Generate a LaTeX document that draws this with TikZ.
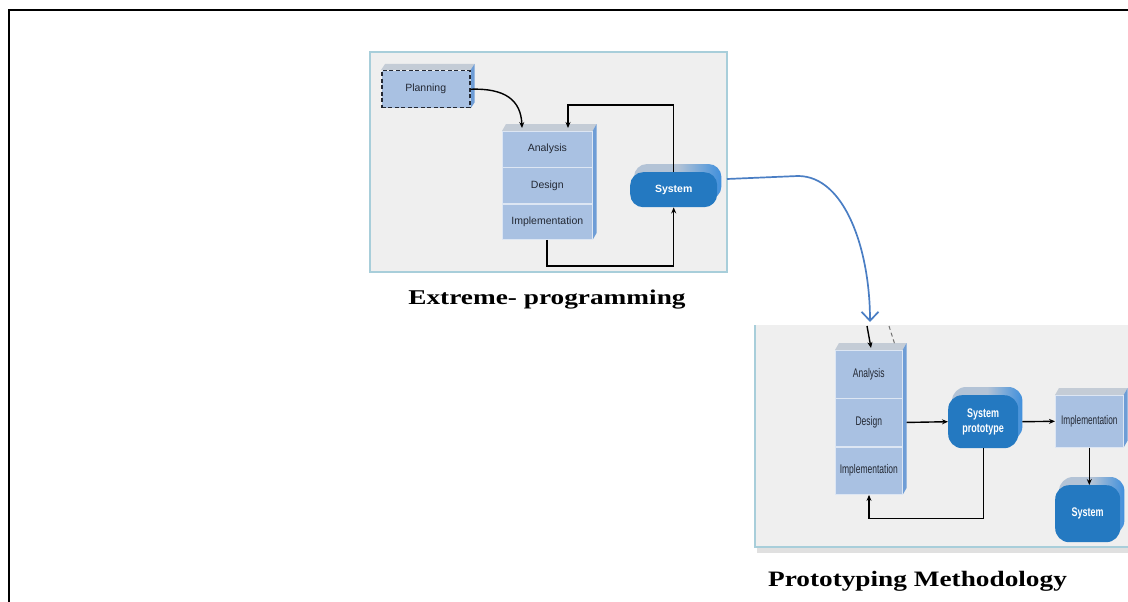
\documentclass[tikz,border=0pt]{standalone}
\usepackage{fontspec}
\setmainfont{Liberation Serif}
\newfontfamily\arialf{Liberation Sans}
\usetikzlibrary{arrows.meta,calc}
\pgfdeclarelayer{background}
\pgfdeclarelayer{mid}
\pgfsetlayers{background,mid,main}
\definecolor{boxfill}{HTML}{A9C1E2}
\definecolor{boxtop}{HTML}{C4CCD6}
\definecolor{boxside}{HTML}{6E9DD6}
\definecolor{sysfill}{HTML}{2479C1}
\definecolor{systop}{HTML}{B3C3D6}
\definecolor{sysside}{HTML}{3F8FDC}
\definecolor{panelfill}{HTML}{EFEFEF}
\definecolor{panelline}{HTML}{A8CEDA}
\definecolor{curveblue}{HTML}{4A7EC4}
\definecolor{txt}{HTML}{232833}
\tikzset{
  panelbox/.style={draw=panelline, fill=panelfill, line width=1.2pt},
  blk/.style={rectangle, fill=boxfill, draw=white!60!boxfill, line width=0.6pt, text=txt,
     font=\arialf\fontsize{10.5}{12}\selectfont, inner sep=0pt, anchor=north west},
  blkb/.style={blk, font=\arialf\fontsize{12.5}{14}\selectfont},
  pill/.style={rectangle, rounded corners=13pt, fill=sysfill, text=white,
     font=\arialf\bfseries\fontsize{10.5}{12}\selectfont, inner sep=0pt, anchor=north west},
  pillb/.style={pill, font=\arialf\bfseries\fontsize{12.5}{14}\selectfont, rounded corners=14pt},
  arr/.style={draw=black, line width=1.4pt, -{Stealth[length=6pt,width=5pt]}},
  caption/.style={font=\bfseries\fontsize{21}{24}\selectfont, inner sep=0pt}
}
\newcommand{\boxfaces}[3]{% north west node, north east node, south east node
  \fill[boxtop] (#1.north west) -- ++(4,-7) -- ($(#2.north east)+(4,-7)$) -- (#2.north east) -- cycle;
  \fill[boxside] (#2.north east) -- ++(4,-7) -- ($(#3.south east)+(4,-7)$) -- (#3.south east) -- cycle;
}
\newcommand{\pillfaces}[2]{% node, radius
  \shade[left color=systop, right color=sysside, middle color=systop, rounded corners=#2]
     ($(#1.south west)+(4,-8)$) rectangle ($(#1.north east)+(4,-8)$);
}
\begin{document}
\begin{tikzpicture}[x=1pt, y=-1pt]
\useasboundingbox (0,0) rectangle (1128,602);

\begin{pgfonlayer}{background}
\fill[white] (0,0) rectangle (1128,602);
\draw[panelbox] (370,52) rectangle (727,272);
\fill[black!12] (757,547) rectangle (1128,553);
\fill[panelfill] (755,325) rectangle (1128,547);
\draw[panelline, line width=1.2pt] (755,325) -- (755,547) -- (1128,547);
\end{pgfonlayer}

% outer frame
\draw[line width=2.6pt] (9,602) -- (9,10) -- (1128,10);

% ---------- panel 1 : Extreme programming ----------
\node[blk, draw=txt, dashed, dash pattern=on 4pt off 2.5pt, line width=1.5pt,
      minimum width=88pt, minimum height=37pt] (plan) at (381,70) {Planning};

\node[blk, minimum width=90pt, minimum height=35.7pt] (a1) at (502,131) {Analysis};
\node[blk, minimum width=90pt, minimum height=35.7pt] (d1) at (a1.south west) {Design};
\node[blk, minimum width=90pt, minimum height=35.7pt] (i1) at (d1.south west) {Implementation};

\node[pill, minimum width=87pt, minimum height=35pt] (sys1) at (630,172) {System};

\begin{pgfonlayer}{mid}
  \fill[boxtop] (plan.north west) -- ++(4,-6) -- ($(plan.north east)+(4,-6)$) -- (plan.north east) -- cycle;
  \fill[boxside] (plan.north east) -- ++(4,-6) -- ($(plan.south east)+(4,-6)$) -- (plan.south east) -- cycle;
  \boxfaces{a1}{a1}{i1}
  \pillfaces{sys1}{13pt}
\end{pgfonlayer}

\draw[arr] (plan.east) .. controls (505,88) and (521,100) .. ($(a1.north west)+(20,-3)$);
\draw[arr] (sys1.north) -- ++(0,-67) -| ($(a1.north west)+(66,-3)$);
\draw[arr] ($(i1.south west)+(45,0)$) -- ++(0,26) -| (sys1.south);

\node[caption] (cap1) at (547,300) {\scalebox{1.3}[1]{Extreme- programming}};

% ---------- panel 2 : Prototyping ----------
\node[blkb, minimum width=67pt, minimum height=47.7pt] (a2) at (835,350) {\scalebox{0.68}[1]{Analysis}};
\node[blkb, minimum width=67pt, minimum height=47.7pt] (d2) at (a2.south west) {\scalebox{0.68}[1]{Design}};
\node[blkb, minimum width=67pt, minimum height=47.7pt] (i2) at (d2.south west) {\scalebox{0.68}[1]{Implementation}};

\node[pillb, minimum width=70pt, minimum height=53pt, align=center] (sp) at (948,395)
   {\scalebox{0.72}[1]{System}\\[1pt]\scalebox{0.72}[1]{prototype}};

\node[blkb, minimum width=68pt, minimum height=52pt] (im2) at (1055,395) {\scalebox{0.66}[1]{Implementation}};

\node[pillb, minimum width=65pt, minimum height=57pt] (sys2) at (1055,485) {\scalebox{0.72}[1]{System}};

\begin{pgfonlayer}{mid}
  \boxfaces{a2}{a2}{i2}
  \boxfaces{im2}{im2}{im2}
  \pillfaces{sp}{14pt}
  \pillfaces{sys2}{14pt}
\end{pgfonlayer}

\coordinate (inA) at (867,326);
\coordinate (inB) at (889,326);
\draw[arr] (inA) -- ($(a2.north west)+(36,-2)$);
\draw[black!55, line width=1pt, dashed, dash pattern=on 4pt off 3pt] (inB) -- ($(a2.north west)+(60,-5)$);

\draw[arr] ($(d2.east)+(4,0)$) -- (sp.west);
\draw[arr] ($(sp.east)+(4,0)$) -- (im2.west);
\draw[arr] (im2.south) -- (im2.south |- sys2.north);
\draw[arr] (sp.south) -- ++(0,70) -| ($(i2.south west)+(34,0)$);

\node[caption] (cap2) at (917.5,581) {\fontsize{22}{24}\selectfont\scalebox{1.24}[1]{Prototyping Methodology}};

% ---------- blue connector ----------
\coordinate (p1out) at (727,179);
\draw[curveblue, line width=1.7pt, -{Straight Barb[length=9pt,width=17pt,line width=1.7pt]}]
  (p1out) -- (798,176) .. controls (845,176) and (870,250) .. (870,322);
\end{tikzpicture}
\end{document}
